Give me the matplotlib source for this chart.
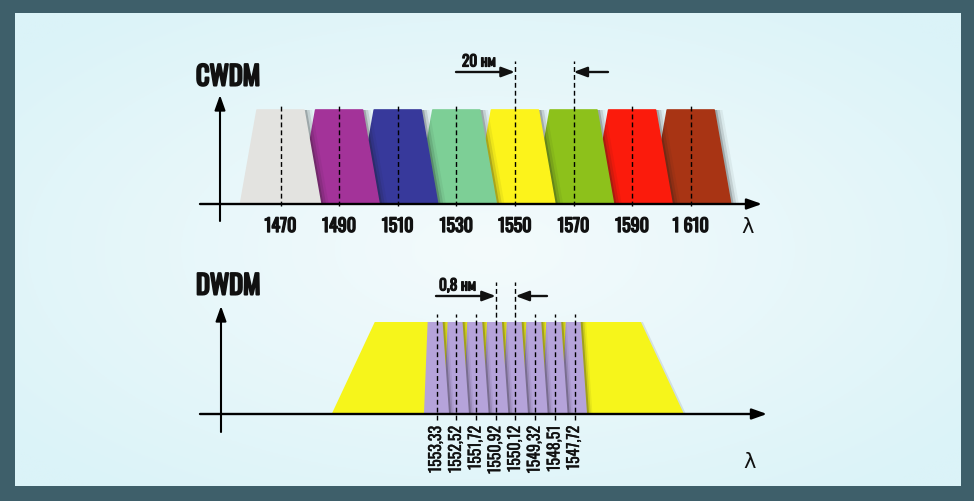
import numpy as np
import matplotlib
matplotlib.use("Agg")
import matplotlib.pyplot as plt
import matplotlib.patheffects as pe
from matplotlib.patches import Polygon

# ---------------- data ----------------
cwdm_wavelengths = [1470, 1490, 1510, 1530, 1550, 1570, 1590, 1610]
cwdm_labels = ["1470", "1490", "1510", "1530", "1550", "1570", "1590", "1 610"]
cwdm_colors = ["#e3e3e0", "#a33399", "#37399b", "#7dcf96",
               "#fcf31b", "#8dc11b", "#fb1b0c", "#a83414"]
cwdm_pair = [1550, 1570]          # channels marked with the 20 nm spacing
cwdm_spacing_label = "20 нм"

dwdm_wavelengths = [1553.33, 1552.52, 1551.72, 1550.92, 1550.12, 1549.32, 1548.51, 1547.72]
dwdm_labels = ["1553,33", "1552,52", "1551,72", "1550,92", "1550,12", "1549,32", "1548,51", "1547,72"]
dwdm_pair = [1550.92, 1550.12]    # channels marked with the 0.8 nm spacing
dwdm_spacing_label = "0,8 нм"
dwdm_band_center = 1550.43        # the wide CWDM 1550 band behind the DWDM channels

# ---------------- style / layout ----------------
W, H = 974, 502
BORDER = "#3e5f6a"
INK = "#111111"
COND = ["Oswald", "DejaVu Sans"]


def bold(lw):
    return [pe.withStroke(linewidth=lw, foreground=INK)]


fig = plt.figure(figsize=(W / 100, H / 100), dpi=100)
fig.patch.set_facecolor(BORDER)

# light panel with soft radial gradient
bg = fig.add_axes([15 / W, 1 - 487 / H, (960 - 15) / W, (487 - 14) / H])
gx, gy = np.meshgrid(np.linspace(-1, 1, 400), np.linspace(-1, 1, 200))
r = np.clip(np.sqrt(gx ** 2 + gy ** 2) / 1.3, 0, 1)
c_in = np.array([0xf4, 0xfb, 0xfc]) / 255
c_out = np.array([0xdb, 0xf3, 0xf8]) / 255
img = c_in[None, None, :] * (1 - r[..., None]) + c_out[None, None, :] * r[..., None]
bg.imshow(img, aspect="auto", extent=(0, 1, 0, 1))
bg.axis("off")

# --- CWDM axes (x in nm, y in relative level) ---
C_X0, C_K = 280.5, 2.93       # pixel of 1470 nm, px per nm
C_Y0, C_U = 205, 94           # pixel of baseline, px per unit level


def cpt(px, py):
    return 1470 + (px - C_X0) / C_K, (C_Y0 - py) / C_U


ax1 = fig.add_axes([0, 0, 1, 1])
ax1.set_xlim(cpt(0, 0)[0], cpt(W, 0)[0])
ax1.set_ylim(cpt(0, H)[1], cpt(0, 0)[1])
ax1.axis("off")

# --- DWDM axes (x in nm, decreasing to the right) ---
D_X0, D_K = 436.5, 24.6
D_Y0, D_U = 415, 92


def dpt(px, py):
    return 1553.33 - (px - D_X0) / D_K, (D_Y0 - py) / D_U


ax2 = fig.add_axes([0, 0, 1, 1])
ax2.set_xlim(dpt(0, 0)[0], dpt(W, 0)[0])
ax2.set_ylim(dpt(0, H)[1], dpt(0, 0)[1])
ax2.axis("off")


def trap(ax, c, top_l, top_r, bot_l, bot_r, color, z, shadow=None, rounded=True):
    """Trapezoid around centre c; offsets are signed nm."""
    pts = [(c + bot_l, 0), (c + top_l, 1), (c + top_r, 1), (c + bot_r, 0)]
    if shadow is not None:
        for dx, a in shadow:
            sp = [(x + dx, y) for x, y in pts]
            ax.add_patch(Polygon(sp, closed=True, facecolor="#1a1a1a", alpha=a,
                                 edgecolor="none", zorder=z - 1))
    ax.add_patch(Polygon(pts, closed=True, facecolor=color,
                         edgecolor=color if rounded else "none", lw=1.2,
                         joinstyle="round", zorder=z))


def arrow(ax, tip, start, lw=1.7, hl=0.9, hw=0.32, z=50, color="k"):
    ax.annotate("", xy=tip, xytext=start,
                arrowprops=dict(arrowstyle=f"-|>,head_length={hl},head_width={hw}",
                                color=color, lw=lw, shrinkA=0, shrinkB=0), zorder=z)


# ---------- CWDM ----------
n = len(cwdm_wavelengths)
c_top, c_bot = 8.0, 13.65
for i, (w, col) in enumerate(zip(cwdm_wavelengths, cwdm_colors)):
    z = 10 + 2 * (n - i)
    trap(ax1, w, -c_top, c_top, -c_bot, c_bot, col, z,
         shadow=[(1.0, 0.22), (1.9, 0.12), (2.8, 0.06)])

short_top = cpt(0, 107)[1]
long_top = cpt(0, 62)[1]
for w in cwdm_wavelengths:
    top = long_top if w in cwdm_pair else short_top
    ax1.plot([w, w], [cpt(0, 207)[1], top], color="k", lw=1.0,
             ls=(0, (3.5, 2.2)), zorder=60)

arrow(ax1, cpt(762, 205), cpt(200, 205))
arrow(ax1, cpt(220, 96), cpt(220, 222), lw=1.5)

ya = cpt(0, 73)[1]
arrow(ax1, (cwdm_pair[0], ya), (cpt(456, 0)[0], ya), hl=0.8, hw=0.3, z=55, color=INK)
arrow(ax1, (cwdm_pair[1], ya), (cpt(608, 0)[0], ya), hl=0.8, hw=0.3, z=55, color=INK)
ax1.text(*cpt(462, 63), cwdm_spacing_label, ha="left", va="center",
         fontsize=11, family=COND, color=INK, zorder=60, path_effects=bold(0.9))

for w, lab in zip(cwdm_wavelengths, cwdm_labels):
    ax1.text(w, cpt(0, 227)[1], lab, ha="center", va="center", fontsize=13,
             family=COND, color=INK, zorder=60, path_effects=bold(1.0))

ax1.text(*cpt(748, 227), "λ", ha="center", va="center", fontsize=15,
         family=["DejaVu Sans"], color=INK, zorder=60)
ax1.text(*cpt(196, 78), "CWDM", ha="left", va="center", fontsize=19,
         family=COND, color=INK, zorder=60, path_effects=bold(1.5))

# ---------- DWDM ----------
trap(ax2, dwdm_band_center, 5.41, -5.41, 7.16, -7.16, "#f6f51b", 5,
     shadow=[(-0.08, 0.10)], rounded=False)

m = len(dwdm_wavelengths)
p_top_l, p_top_r, p_bot = 0.36, -0.25, 0.51
for i, w in enumerate(dwdm_wavelengths):
    z = 10 + 2 * (m - i)
    trap(ax2, w, p_top_l, p_top_r, p_bot, -p_bot, "#b5a3da", z,
         shadow=[(-0.08, 0.25), (-0.15, 0.12), (-0.22, 0.06)], rounded=False)

d_short_top = dpt(0, 315)[1]
d_long_top = dpt(0, 283)[1]
for w in dwdm_wavelengths:
    top = d_long_top if w in dwdm_pair else d_short_top
    ax2.plot([w, w], [dpt(0, 421)[1], top], color="k", lw=1.0,
             ls=(0, (3.5, 2.2)), zorder=60)

arrow(ax2, dpt(767, 415), dpt(200, 415))
arrow(ax2, dpt(221, 307), dpt(221, 433), lw=1.5)

yb = dpt(0, 297)[1]
arrow(ax2, (dwdm_pair[0], yb), (dpt(436, 0)[0], yb), hl=0.8, hw=0.3, z=55, color=INK)
arrow(ax2, (dwdm_pair[1], yb), (dpt(547, 0)[0], yb), hl=0.8, hw=0.3, z=55, color=INK)
ax2.text(*dpt(439, 287), dwdm_spacing_label, ha="left", va="center",
         fontsize=11, family=COND, color=INK, zorder=60, path_effects=bold(0.9))

for w, lab in zip(dwdm_wavelengths, dwdm_labels):
    ax2.text(w, dpt(0, 427)[1], lab, ha="center", va="top", rotation=90,
             fontsize=11.5, family=COND, color=INK, zorder=60, path_effects=bold(0.25))

ax2.text(*dpt(750, 462), "λ", ha="center", va="center", fontsize=15,
         family=["DejaVu Sans"], color=INK, zorder=60)
ax2.text(*dpt(196, 287), "DWDM", ha="left", va="center", fontsize=19,
         family=COND, color=INK, zorder=60, path_effects=bold(1.5))

fig.savefig("out.png", dpi=100, facecolor=fig.get_facecolor())
